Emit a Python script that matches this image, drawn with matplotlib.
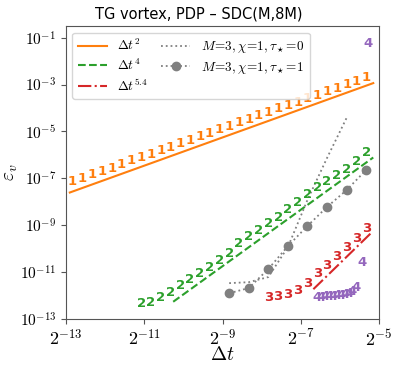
import numpy as np
import matplotlib
matplotlib.use("Agg")
import matplotlib.pyplot as plt

plt.rcParams['mathtext.fontset'] = 'cm'

# ---- data ----
# series "1" (orange): log2(dt) and log10(error)
s1_log2dt = [-12.83, -12.58, -12.33, -12.08, -11.83, -11.58, -11.33, -11.08, -10.83, -10.58,
             -10.33, -10.08, -9.83, -9.58, -9.33, -9.08, -8.83, -8.58, -8.33, -8.08,
             -7.83, -7.58, -7.33, -7.08, -6.83, -6.58, -6.33, -6.08, -5.83, -5.58, -5.33]
s1_log10err = [-7.15, -7.00, -6.85, -6.71, -6.56, -6.41, -6.26, -6.11, -5.97, -5.82,
               -5.67, -5.52, -5.37, -5.23, -5.08, -4.93, -4.78, -4.63, -4.49, -4.34,
               -4.19, -4.04, -3.89, -3.75, -3.60, -3.45, -3.30, -3.15, -3.01, -2.86, -2.71]

# series "2" (green)
s2_log2dt = [-11.08, -10.83, -10.58, -10.33, -10.08, -9.83, -9.58, -9.33, -9.08, -8.83,
             -8.58, -8.33, -8.08, -7.83, -7.58, -7.33, -7.08, -6.83, -6.58, -6.33,
             -6.08, -5.83, -5.58, -5.33]
s2_log10err = [-12.32, -12.28, -12.07, -11.85, -11.56, -11.30, -11.04, -10.79, -10.49, -10.19,
               -9.76, -9.50, -9.21, -8.91, -8.65, -8.31, -8.01, -7.71, -7.41, -7.15,
               -6.90, -6.64, -6.30, -5.91]

# series "3" (red)
s3_log2dt = [-7.83, -7.58, -7.33, -7.08, -6.83, -6.58, -6.33, -6.08, -5.83, -5.58, -5.33]
s3_log10err = [-12.07, -12.03, -11.94, -11.77, -11.47, -11.04, -10.70, -10.32, -9.93, -9.55, -9.12]

# series "4" (purple)
s4_log2dt = [-6.58, -6.48, -6.38, -6.28, -6.18, -6.08, -5.98, -5.88, -5.78, -5.68, -5.58, -5.43, -5.28]
s4_log10err = [-12.07, -12.07, -12.03, -12.03, -12.03, -11.98, -11.98, -11.94, -11.90, -11.81,
               -11.64, -10.57, -1.26]

# gray series M=3, chi=1, tau=0 (dotted) and tau=1 (dotted + circles)
g_log2dt = [-8.83, -8.33, -7.83, -7.33, -6.83, -6.33, -5.83]
g0_log10err = [-11.47, -11.43, -11.21, -9.93, -7.92, -6.13, -4.42]
g1_log2dt = [-8.83, -8.33, -7.83, -7.33, -6.83, -6.33, -5.83, -5.33]
g1_log10err = [-11.90, -11.68, -10.87, -9.89, -9.03, -8.22, -7.50, -6.64]

# reference slopes
ref2_log2dt = [-12.9, -5.15]
ref2_C = 1.45
ref4_log2dt = [-10.26, -5.15]
ref4_C = 1.23
ref54_log2dt = [-6.68, -5.17]
ref54_C = 0.135

xticks_exp = [-13, -11, -9, -7, -5]
yticks_exp = [-13, -11, -9, -7, -5, -3, -1]

C1, C2, C3, C4 = '#ff7f0e', '#2ca02c', '#d62728', '#9467bd'
GRAY = '#808080'

fig = plt.figure(figsize=(3.97, 3.65), dpi=100)
ax = fig.add_axes([0.166, 0.126, 0.789, 0.803])
ax.set_xscale('log', base=2)
ax.set_yscale('log')

def arr2(l):
    return 2.0 ** np.array(l)

def arr10(l):
    return 10.0 ** np.array(l)

# reference lines
x = arr2(ref2_log2dt)
ax.plot(x, ref2_C * x**2, color=C1, lw=1.5, ls='-', label=r'$\Delta t^2$')
x = arr2(ref4_log2dt)
ax.plot(x, ref4_C * x**4, color=C2, lw=1.5, ls='--', label=r'$\Delta t^4$')
x = arr2(ref54_log2dt)
ax.plot(x, ref54_C * x**5.4, color=C3, lw=1.5, ls='-.', label=r'$\Delta t^{5.4}$')

# gray series
ax.plot(arr2(g_log2dt), arr10(g0_log10err), color=GRAY, ls=':', lw=1.3,
        label=r'$M\!=\!3, \chi\!=\!1, \tau_\star\!=\!0$')
ax.plot(arr2(g1_log2dt), arr10(g1_log10err), color=GRAY, ls=':', lw=1.3, marker='o', ms=6,
        label=r'$M\!=\!3, \chi\!=\!1, \tau_\star\!=\!1$')

# number markers
for xs, ys, txt, col in [(s1_log2dt, s1_log10err, '1', C1),
                         (s2_log2dt, s2_log10err, '2', C2),
                         (s3_log2dt, s3_log10err, '3', C3),
                         (s4_log2dt, s4_log10err, '4', C4)]:
    for xv, yv in zip(arr2(xs), arr10(ys)):
        ax.text(xv, yv, txt, color=col, fontsize=9.5, fontweight='bold',
                ha='center', va='center', family='DejaVu Sans')

ax.set_xlim(2.0**-13, 2.0**-5)
ax.set_ylim(1e-13, 10**-0.5)
ax.set_xticks(arr2(xticks_exp))
ax.set_xticklabels([r'$2^{%d}$' % e for e in xticks_exp], fontsize=13)
ax.set_yticks(arr10(yticks_exp))
ax.set_yticklabels([r'$10^{%d}$' % e for e in yticks_exp], fontsize=11)
ax.xaxis.set_minor_locator(matplotlib.ticker.NullLocator())
ax.yaxis.set_minor_locator(matplotlib.ticker.NullLocator())

for sp in ax.spines.values():
    sp.set_color('#555555')
ax.tick_params(colors='#555555', labelcolor='black')

ax.set_xlabel(r'$\Delta t$', fontsize=14, labelpad=-3)
ax.set_ylabel(r'$\varepsilon_v$', fontsize=14, labelpad=0)
fig.suptitle('TG vortex, PDP – SDC(M,8M)', fontsize=10.5, x=0.5, y=0.962, va='center')

ax.legend(loc='upper left', ncol=2, fontsize=9.5, handlelength=2.2,
          columnspacing=1.0, borderpad=0.4, labelspacing=0.35, framealpha=0.8)

fig.savefig('out.png', dpi=100)
